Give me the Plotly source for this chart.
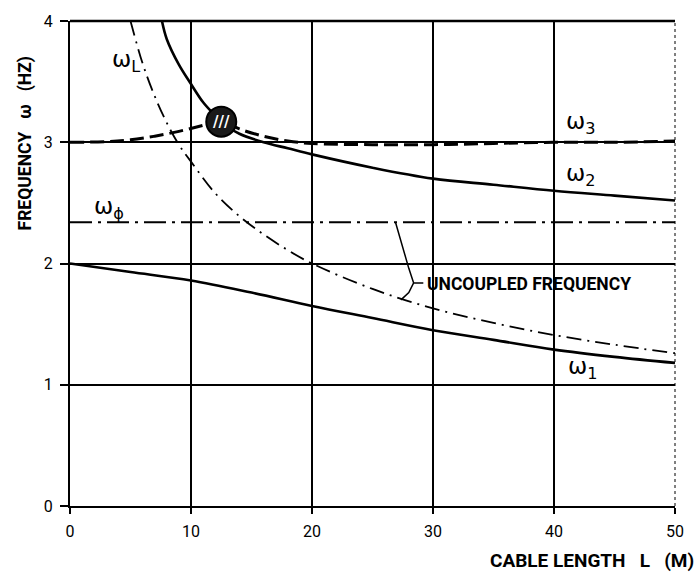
import plotly.graph_objects as go

# ---- data ----
L_w1 = [0, 5, 10, 15, 20, 25, 30, 35, 40, 45, 50]
w1 = [2.00, 1.93, 1.86, 1.76, 1.65, 1.55, 1.45, 1.37, 1.29, 1.23, 1.18]

L_w2 = [7.6, 8, 9, 10, 11, 12, 12.5, 13, 14, 16, 18, 20, 25, 30, 35, 40, 45, 50]
w2 = [4.0, 3.85, 3.64, 3.48, 3.33, 3.22, 3.17, 3.13, 3.07, 3.00, 2.95, 2.90, 2.79, 2.70, 2.65, 2.60, 2.56, 2.52]

L_w3 = [0, 3, 5, 7, 9, 11, 12.5, 14, 16, 18, 20, 25, 30, 35, 40, 45, 50]
w3 = [3.00, 3.005, 3.02, 3.05, 3.09, 3.14, 3.18, 3.11, 3.05, 3.01, 2.99, 2.98, 2.98, 2.99, 3.00, 3.00, 3.01]

L_wL = [5, 6, 7, 8, 9, 10, 12, 14, 16, 18, 20, 25, 30, 35, 40, 45, 50]
wL = [4.00, 3.65, 3.38, 3.16, 2.98, 2.84, 2.58, 2.39, 2.24, 2.11, 2.00, 1.79, 1.63, 1.51, 1.41, 1.33, 1.26]

L_wphi = [0, 50]
wphi = [2.34, 2.34]

L_veer = [12.5]
w_veer = [3.17]

x_ticks = [0, 10, 20, 30, 40, 50]
y_ticks = [0, 1, 2, 3, 4]

FONT = "Roboto, Liberation Sans Narrow, sans-serif"
GFONT = "DejaVu Sans, sans-serif"
SP = "&nbsp;&nbsp;&nbsp;"

fig = go.Figure()

fig.add_trace(go.Scatter(x=L_wphi, y=wphi, mode="lines",
                         line=dict(color="black", width=2, dash="22px,6px,3px,6px")))
fig.add_trace(go.Scatter(x=L_wL, y=wL, mode="lines", line_shape="spline",
                         line=dict(color="black", width=1.8, dash="15px,6px,2px,6px")))
fig.add_trace(go.Scatter(x=L_w1, y=w1, mode="lines", line_shape="spline",
                         line=dict(color="black", width=2.6)))
fig.add_trace(go.Scatter(x=L_w2, y=w2, mode="lines", line_shape="spline",
                         line=dict(color="black", width=2.6)))
fig.add_trace(go.Scatter(x=L_w3, y=w3, mode="lines", line_shape="spline",
                         line=dict(color="black", width=3, dash="14px,6px")))
fig.add_trace(go.Scatter(x=L_veer, y=w_veer, mode="markers",
                         marker=dict(symbol="circle", size=30, color="#1a1a1a",
                                     line=dict(color="black", width=2))))

fig.update_layout(
    width=696, height=576,
    margin=dict(l=70, r=13, t=13, b=70),
    plot_bgcolor="white", paper_bgcolor="white",
    showlegend=False,
    xaxis=dict(range=[0, 50], tickvals=x_ticks, showgrid=True, gridcolor="black",
               gridwidth=1.5, showline=True, linecolor="black", linewidth=2,
               zeroline=False, ticks="outside", ticklen=6, tickwidth=1.5,
               tickcolor="black", ticklabelstandoff=4,
               tickfont=dict(family=FONT, size=16, color="black")),
    yaxis=dict(range=[0, 4], tickvals=y_ticks, showgrid=True, gridcolor="black",
               gridwidth=1.5, showline=True, linecolor="black", linewidth=2,
               zeroline=False, ticks="outside", ticklen=8, tickwidth=1.5,
               tickcolor="black", ticklabelstandoff=4,
               tickfont=dict(family=FONT, size=16, color="black")),
)

# top and right borders
fig.add_shape(type="line", xref="paper", yref="paper", x0=0, x1=1, y0=1, y1=1,
              line=dict(color="black", width=2.5))
fig.add_shape(type="line", xref="paper", yref="paper", x0=1, x1=1, y0=0, y1=1,
              line=dict(color="black", width=1, dash="dot"))

# leader bracket for "UNCOUPLED FREQUENCY"
fig.add_shape(type="path", xref="x", yref="y",
              path="M 26.9,2.34 L 28.0,1.96 L 28.4,1.84 L 29.2,1.84 M 28.4,1.84 L 28.0,1.76 L 27.35,1.70",
              line=dict(color="black", width=1.5))

# hatch on the veering circle
fig.add_annotation(x=12.5, y=3.17, xref="x", yref="y", text="<b>///</b>",
                   showarrow=False, font=dict(family=GFONT, size=15, color="white"))

labels = [
    ("ω<sub>L</sub>", 3.3, 3.67),
    ("ω<sub>ϕ</sub>", 1.8, 2.46),
    ("ω<sub>3</sub>", 40.8, 3.16),
    ("ω<sub>2</sub>", 40.8, 2.73),
    ("ω<sub>1</sub>", 41.0, 1.14),
]
for t, x, y in labels:
    fig.add_annotation(x=x, y=y, xref="x", yref="y", text=t, showarrow=False,
                       xanchor="left", yanchor="middle",
                       font=dict(family=GFONT, size=23, color="black"))

fig.add_annotation(x=29.3, y=1.83, xref="x", yref="y", text="<b>UNCOUPLED FREQUENCY</b>",
                   showarrow=False, xanchor="left", yanchor="middle",
                   font=dict(family=FONT, size=17.5, color="black"))

fig.add_annotation(x=-0.074, y=0.748, xref="paper", yref="paper",
                   text="<b>FREQUENCY" + SP + "ω" + SP + "(HZ)</b>", textangle=-90,
                   showarrow=False, xanchor="center", yanchor="middle",
                   font=dict(family=FONT, size=17.5, color="black"))

fig.add_annotation(x=1.035, y=-0.1116, xref="paper", yref="paper",
                   text="<b>CABLE LENGTH" + SP + "L" + SP + "(M)</b>", showarrow=False,
                   xanchor="right", yanchor="middle",
                   font=dict(family=FONT, size=19, color="black"))

fig.write_html("out.html")
